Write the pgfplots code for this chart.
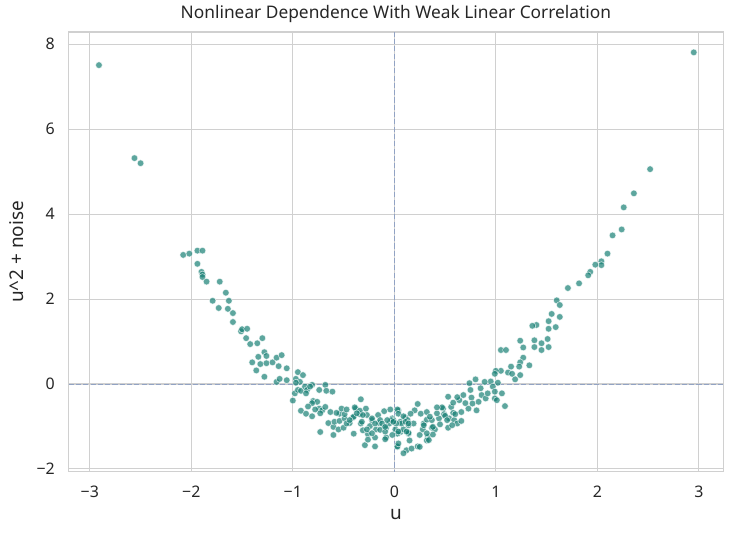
\documentclass[border=0pt]{standalone}
\usepackage{fontspec}
\setmainfont{Noto Sans}
\usepackage{pgfplots}
\pgfplotsset{compat=1.18}
\usepackage{pgfplotstable}
\definecolor{pt}{RGB}{24,128,117}
\definecolor{gridc}{RGB}{208,208,208}
\definecolor{txt}{RGB}{38,38,38}
\definecolor{zl}{RGB}{146,163,196}
\pgfplotstableread{
x y
-2.91 7.51
-2.56 5.32
-2.50 5.20
2.95 7.81
2.52 5.06
2.36 4.49
2.26 4.16
2.24 3.64
2.15 3.50
2.10 3.07
2.04 2.89
2.04 2.80
1.98 2.81
1.93 2.64
1.91 2.56
1.82 2.37
1.71 2.26
1.60 1.97
1.63 1.86
1.55 1.65
1.63 1.58
1.52 1.48
1.40 1.39
1.36 1.37
1.52 1.30
1.59 1.34
1.51 1.06
1.38 1.03
1.24 1.02
1.27 0.86
1.38 0.87
1.45 0.96
1.45 0.80
1.52 0.87
1.05 0.80
1.10 0.80
1.27 0.62
1.24 0.51
1.23 0.41
1.33 0.44
1.15 0.41
1.19 0.11
1.24 0.21
1.12 0.27
1.16 0.24
1.05 0.31
1.00 0.31
0.99 0.24
1.06 -0.22
1.09 -0.52
0.95 0.06
0.89 0.05
1.02 0.03
-2.08 3.04
-2.02 3.07
-1.94 3.14
-1.89 3.14
-1.94 2.83
-1.90 2.64
-1.89 2.58
-1.89 2.52
-1.85 2.41
-1.72 2.41
-1.66 2.15
-1.79 1.96
-1.63 1.96
-1.73 1.79
-1.64 1.77
-1.59 1.67
-1.59 1.46
-1.51 1.24
-1.50 1.29
-1.45 1.30
-1.46 1.08
-1.42 0.94
-1.35 0.96
-1.30 1.08
-1.28 0.75
-1.34 0.64
-1.26 0.66
-1.40 0.51
-1.32 0.47
-1.26 0.49
-1.20 0.51
-1.16 0.62
-1.11 0.68
-1.14 0.42
-1.06 0.37
-1.36 0.32
-1.28 0.17
-1.16 0.05
-1.13 0.12
-1.06 0.09
-0.95 0.28
-0.90 0.21
-0.97 0.12
-0.93 0.05
-0.98 -0.22
-1.00 -0.39
-0.95 -0.14
-0.92 -0.16
-0.88 -0.06
-0.86 -0.14
-0.81 -0.02
-0.74 -0.14
-0.68 -0.02
-0.67 -0.16
-0.61 -0.18
-0.80 -0.40
-0.76 -0.42
-0.74 -0.58
-0.92 -0.63
-0.87 -0.70
-0.81 -0.76
-0.71 -0.62
-0.68 -0.54
-0.63 -0.66
-0.73 -1.13
-0.65 -0.92
-0.60 -1.01
-0.59 -0.89
-0.54 -0.87
-0.54 -0.70
-0.52 -0.58
-0.49 -0.81
-0.55 -1.07
-0.50 -1.03
-0.44 -0.92
-0.41 -0.79
-0.38 -0.58
-0.33 -0.36
-0.34 -0.71
-0.28 -0.58
-0.27 -0.73
-0.40 -1.17
-0.33 -0.93
-0.31 -1.09
-0.26 -1.18
-0.24 -0.99
-0.22 -0.85
-0.29 -1.44
-0.26 -1.31
-0.19 -1.26
-0.18 -1.07
-0.15 -0.92
-0.16 -0.73
-0.10 -0.64
-0.14 -0.85
-0.08 -1.03
-0.08 -1.26
-0.05 -0.93
-0.02 -0.81
0.03 -1.48
0.04 -0.62
0.06 -0.89
0.06 -1.13
0.11 -0.79
0.12 -1.56
0.14 -1.17
0.14 -0.97
0.03 -0.60
0.04 -0.70
0.09 -0.76
-0.01 -0.85
0.01 -1.07
0.03 -1.17
0.07 -0.93
0.09 -1.07
0.13 -0.85
0.14 -1.15
0.03 -1.47
0.09 -1.63
0.17 -1.52
0.15 -1.33
0.23 -1.47
0.19 -0.93
0.23 -0.47
0.26 -0.70
0.29 -0.93
0.28 -1.07
0.32 -0.66
0.32 -0.84
0.37 -0.85
0.37 -1.03
0.40 -1.07
0.33 -1.25
0.32 -1.33
0.38 -1.19
0.44 -0.81
0.48 -0.58
0.49 -0.71
0.53 -1.03
0.54 -0.81
0.53 -0.30
0.56 -0.54
0.58 -0.44
0.58 -0.68
0.59 -0.85
0.62 -0.93
0.66 -0.66
0.66 -0.87
0.64 -0.38
0.68 -0.26
0.73 -0.58
0.75 -0.14
0.76 -0.32
0.77 -0.46
0.81 -0.62
0.80 0.11
0.83 -0.42
0.74 0.02
0.85 -0.10
0.86 -0.26
0.90 -0.34
0.92 -0.22
0.97 -0.06
0.99 -0.18
0.99 -0.34
1.01 -0.38
-0.57 -0.68
-0.49 -0.71
-0.39 -0.55
-0.34 -0.63
-0.47 -0.93
-0.40 -0.77
-0.32 -0.89
-0.31 -0.73
-0.22 -0.81
-0.19 -0.93
-0.12 -0.93
-0.03 -0.85
0.02 -0.93
0.11 -0.89
-0.60 -1.20
-0.27 -1.07
-0.22 -1.16
-0.14 -1.08
-0.09 -1.12
-0.19 -1.47
0.62 -0.31
0.47 -0.55
0.35 -0.77
0.42 -0.69
0.50 -0.75
0.60 -0.71
-0.01 -0.89
0.14 -0.93
0.29 -0.97
0.38 -1.01
0.57 -0.97
-0.09 -1.01
0.04 -1.12
0.12 -1.12
0.25 -1.20
0.32 -1.16
-0.09 -1.30
0.04 -1.40
0.34 -1.32
0.25 -1.48
-0.87 -0.22
-0.81 -0.45
-0.78 -0.60
-0.85 -0.53
-0.73 -0.69
-0.47 -0.60
-0.37 -0.69
-0.04 -0.60
-0.44 -0.85
-0.07 -0.85
-0.83 -0.06
-0.97 0.03
0.20 -0.62
0.45 -0.95
0.70 -0.45
0.42 -0.55
0.16 -0.70
-0.02 -1.20
0.52 -0.85
}\pts
\begin{document}
\begin{tikzpicture}
\begin{axis}[
  name=ax,
  scale only axis,
  width=654.8bp, height=439.4bp,
  xmin=-3.210, xmax=3.241,
  ymin=-2.065, ymax=8.283,
  xtick={-3,-2,-1,0,1,2,3},
  xticklabels={−3,−2,−1,0,1,2,3},
  ytick={-2,0,2,4,6,8},
  yticklabels={−2,0,2,4,6,8},
  major tick length=0pt,
  grid=major,
  major grid style={draw=gridc, line width=1.1bp},
  axis line style={draw=gridc, line width=1.6bp},
  tick label style={font=\fontsize{16}{19}\selectfont, text=txt},
  xticklabel style={anchor=base, yshift=-25.6bp},
  yticklabel style={anchor=east, inner sep=0pt, xshift=-13.5bp},
  title={Nonlinear Dependence With Weak Linear Correlation},
  title style={at={(axis description cs:0.5,1)}, anchor=base, yshift=8bp, font=\fontsize{17.4}{20}\selectfont, text=txt},
  xlabel={u},
  xlabel style={at={([yshift=-48.3bp]axis description cs:0.5,0)}, anchor=base, font=\fontsize{19}{22}\selectfont, text=txt},
  ylabel={u\textasciicircum 2 + noise},
  ylabel style={at={([xshift=-45.5bp]axis description cs:0,0.5)}, anchor=base, rotate=0, font=\fontsize{19}{22}\selectfont, text=txt},
]
\addplot[only marks, mark=*, mark size=3.35bp,
  mark options={draw=white, fill=pt, line width=0.6bp, opacity=0.7}] table {\pts};
\addplot[draw=zl, line width=1bp, dash pattern=on 5.1bp off 2.2bp] coordinates {(-4,0) (4,0)};
\addplot[draw=zl, line width=1bp, dash pattern=on 5.1bp off 2.2bp] coordinates {(0,-3) (0,9)};
\end{axis}
\pgfresetboundingbox
\path ([shift={(-68.5bp,-62.3bp)}]ax.south west) rectangle ([shift={(10.7bp,32.3bp)}]ax.north east);
\end{tikzpicture}
\end{document}
